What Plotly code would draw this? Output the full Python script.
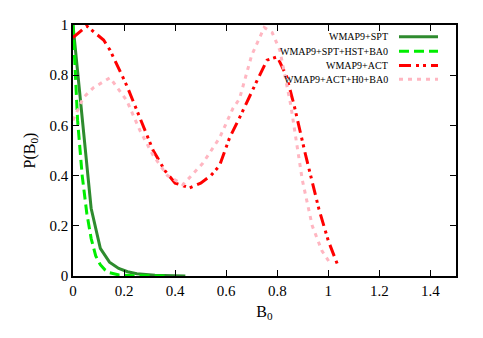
import plotly.graph_objects as go

# WMAP9+SPT
spt_x = [0, 0.036, 0.071, 0.107, 0.143, 0.179, 0.214, 0.25, 0.286, 0.321, 0.357, 0.393, 0.44]
spt_y = [1.0, 0.62, 0.27, 0.11, 0.055, 0.03, 0.017, 0.009, 0.005, 0.003, 0.002, 0.001, 0.0]
# WMAP9+SPT+HST+BA0
spth_x = [0, 0.018, 0.036, 0.054, 0.071, 0.089, 0.107, 0.125, 0.143, 0.18, 0.25, 0.36]
spth_y = [1.0, 0.62, 0.40, 0.25, 0.15, 0.08, 0.045, 0.025, 0.013, 0.004, 0.001, 0.0]
# WMAP9+ACT
act_x = [0, 0.054, 0.12, 0.145, 0.21, 0.274, 0.314, 0.36, 0.40, 0.457, 0.50, 0.54, 0.574, 0.613, 0.652, 0.717, 0.76, 0.80, 0.835, 0.866, 0.91, 0.963, 1.0, 1.035]
act_y = [0.95, 0.996, 0.94, 0.90, 0.76, 0.60, 0.50, 0.42, 0.37, 0.351, 0.37, 0.40, 0.44, 0.55, 0.63, 0.77, 0.86, 0.873, 0.80, 0.68, 0.486, 0.267, 0.14, 0.048]
# WMAP9+ACT+H0+BA0
acth_x = [0, 0.04, 0.08, 0.145, 0.21, 0.262, 0.314, 0.37, 0.431, 0.509, 0.574, 0.626, 0.652, 0.70, 0.749, 0.78, 0.81, 0.853, 0.898, 0.937, 0.975, 1.009]
acth_y = [0.62, 0.71, 0.75, 0.79, 0.70, 0.58, 0.48, 0.40, 0.364, 0.45, 0.55, 0.667, 0.706, 0.88, 0.99, 0.97, 0.90, 0.68, 0.383, 0.20, 0.10, 0.048]

names = ["WMAP9+SPT", "WMAP9+SPT+HST+BA0", "WMAP9+ACT", "WMAP9+ACT+H0+BA0"]
colors = ["#2e8b2e", "#00ee00", "#ff0000", "#ffb6c1"]
dashes = ["solid", "10px,5px", "12px,5px,3px,4px,3px,5px", "4px,5px"]
xs = [spt_x, spth_x, act_x, acth_x]
ys = [spt_y, spth_y, act_y, acth_y]

FONT = "Liberation Serif"

fig = go.Figure()
for n, c, d, x, y in zip(names, colors, dashes, xs, ys):
    fig.add_trace(go.Scatter(x=x, y=y, mode="lines", name=n,
                             line=dict(color=c, width=3, dash=d), showlegend=False))

# page body has an 8px margin; plot area in page pixels: x 73..456, y 17..276
def px_to_x(px):
    return (px - 73) / (456 - 73)
def py_to_y(py):
    return (276 - py) / (276 - 17)
rows = [29, 44, 58.7, 73]
for n, c, d, r in zip(names, colors, dashes, rows):
    fig.add_annotation(x=px_to_x(390), y=py_to_y(r), xref="paper", yref="paper",
                       text=n, showarrow=False, xanchor="right", yanchor="middle",
                       font=dict(family=FONT, size=10, color="black"))
    fig.add_shape(type="line", xref="paper", yref="paper",
                  x0=px_to_x(399), x1=px_to_x(438), y0=py_to_y(r), y1=py_to_y(r),
                  line=dict(color=c, width=3, dash=d))

axis_common = dict(showgrid=False, zeroline=False, showline=True, linecolor="black",
                   linewidth=1.5, mirror="ticks", ticks="inside", ticklen=6,
                   tickcolor="black", tickwidth=1,
                   tickfont=dict(family=FONT, size=15, color="black"))
fig.update_xaxes(range=[0, 1.5], tickvals=[0, 0.2, 0.4, 0.6, 0.8, 1, 1.2, 1.4],
                 ticktext=["0", "0.2", "0.4", "0.6", "0.8", "1", "1.2", "1.4"],
                 title=dict(text="B<sub>0</sub>", font=dict(family=FONT, size=16, color="black"), standoff=8),
                 **axis_common)
fig.update_yaxes(range=[0, 1], tickvals=[0, 0.2, 0.4, 0.6, 0.8, 1],
                 ticktext=["0", "0.2", "0.4", "0.6", "0.8", "1"],
                 title=dict(text="P(B<sub>0</sub>)", font=dict(family=FONT, size=16, color="black"), standoff=10),
                 **axis_common)
fig.update_layout(width=475, height=330, margin=dict(l=65, r=27, t=9, b=62),
                  font=dict(family=FONT, color="black"),
                  plot_bgcolor="white", paper_bgcolor="white")
fig.write_html("out.html")
